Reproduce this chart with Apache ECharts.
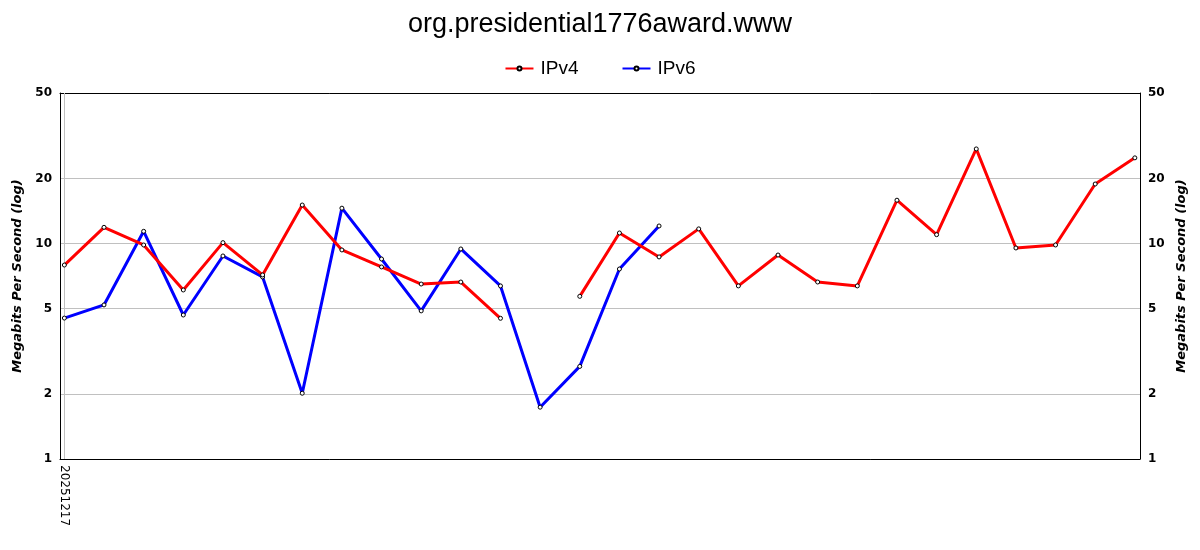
<!DOCTYPE html>
<html>
<head>
<meta charset="utf-8">
<script src="https://cdn.jsdelivr.net/npm/echarts@6/dist/echarts.min.js"></script>
<style>
  html, body { margin: 0; padding: 0; background: #fff; }
  #chart { width: 1200px; height: 550px; }
</style>
</head>
<body>
<div id="chart"></div>
<script>
  // dates (only the first one is labelled on the axis)
  var dates = ['20251217', '20251218', '20251219', '20251220', '20251221', '20251222', '20251223',
    '20251224', '20251225', '20251226', '20251227', '20251228', '20251229', '20251230', '20251231',
    '20260101', '20260102', '20260103', '20260104', '20260105', '20260106', '20260107', '20260108',
    '20260109', '20260110', '20260111', '20260112', '20260113']
  var ipv4 = [7.95, 11.9, 9.85, 6.09, 10.1, 7.15, 15.1, 9.34, 7.79, 6.49, 6.63, 4.5, null,
    5.69, 11.2, 8.67, 11.7, 6.36, 8.85, 6.63, 6.36, 15.9, 11.0, 27.5, 9.54, 9.85, 18.9, 25.0]
  var ipv6 = [4.51, 5.19, 11.4, 4.66, 8.76, 7.0, 2.02, 14.6, 8.48, 4.87, 9.44, 6.36, 1.74,
    2.69, 7.62, 12.07, null, null, null, null, null, null, null, null, null, null, null, null]
  var yTicks = [1, 2, 5, 10, 20, 50]

  var chart = echarts.init(document.getElementById('chart'))

  function pairs (arr) {
    return arr.map(function (v, i) { return [i, v] })
  }

  function yAxis (pos) {
    return {
      type: 'log',
      logBase: 10,
      min: 1,
      max: 50,
      position: pos,
      name: 'Megabits Per Second (log)',
      nameLocation: 'middle',
      nameRotate: 90,
      nameGap: 19,
      nameTextStyle: { fontFamily: 'DejaVu Sans', fontSize: 13, fontWeight: 'bold', fontStyle: 'italic', color: '#000' },
      axisLine: { show: true, onZero: false, lineStyle: { color: '#000', width: 1 } },
      axisTick: { show: false, customValues: yTicks },
      axisLabel: {
        customValues: yTicks,
        margin: 8,
        fontFamily: 'DejaVu Sans',
        fontSize: 12,
        fontWeight: 'bold',
        color: '#000'
      },
      splitLine: { show: pos === 'left', lineStyle: { color: '#c0c0c0', width: 1 } },
      minorSplitLine: { show: false }
    }
  }

  function lineSeries (name, color, data) {
    return {
      name: name,
      type: 'line',
      data: pairs(data),
      connectNulls: false,
      symbol: 'circle',
      symbolSize: 4,
      showSymbol: true,
      lineStyle: { color: color, width: 3 },
      itemStyle: { color: '#fff', borderColor: '#000', borderWidth: 1 },
      emphasis: { disabled: true },
      z: name === 'IPv4' ? 3 : 2
    }
  }

  var series = [lineSeries('IPv4', '#ff0000', ipv4), lineSeries('IPv6', '#0000ff', ipv6)]
  // vertical grid line at the first (labelled) date
  series[1].markLine = {
    silent: true,
    symbol: 'none',
    label: { show: false },
    lineStyle: { color: '#c0c0c0', width: 1, type: 'solid' },
    data: [{ xAxis: 0 }],
    z: 1
  }

  chart.setOption({
    animation: false,
    title: {
      text: 'org.presidential1776award.www',
      left: 'center',
      top: 6,
      textStyle: { fontFamily: 'Liberation Sans', fontSize: 27, fontWeight: 'normal', color: '#000' }
    },
    legend: {
      top: 54,
      left: 'center',
      itemGap: 43,
      itemWidth: 28,
      itemHeight: 5,
      data: ['IPv4', 'IPv6'],
      textStyle: { fontFamily: 'Liberation Sans', fontSize: 19, color: '#000', padding: [0, 0, 0, 2] }
    },
    grid: {
      left: 60,
      right: 60,
      top: 93,
      bottom: 91
    },
    xAxis: [{
      type: 'value',
      min: -0.11,
      max: 27.13,
      position: 'bottom',
      axisLine: { show: true, onZero: false, lineStyle: { color: '#000', width: 1 } },
      axisTick: { show: false },
      splitLine: { show: false },
      axisLabel: {
        customValues: [0],
        rotate: -90,
        margin: 6,
        fontFamily: 'DejaVu Sans',
        fontSize: 12,
        color: '#000',
        formatter: function (v) { return dates[Math.round(v)] }
      }
    }, {
      // top frame line only
      type: 'value',
      min: -0.11,
      max: 27.13,
      position: 'top',
      axisLine: { show: true, onZero: false, lineStyle: { color: '#000', width: 1 } },
      axisTick: { show: false },
      axisLabel: { show: false },
      splitLine: { show: false }
    }],
    yAxis: [yAxis('left'), yAxis('right')],
    series: series
  })
</script>
</body>
</html>
